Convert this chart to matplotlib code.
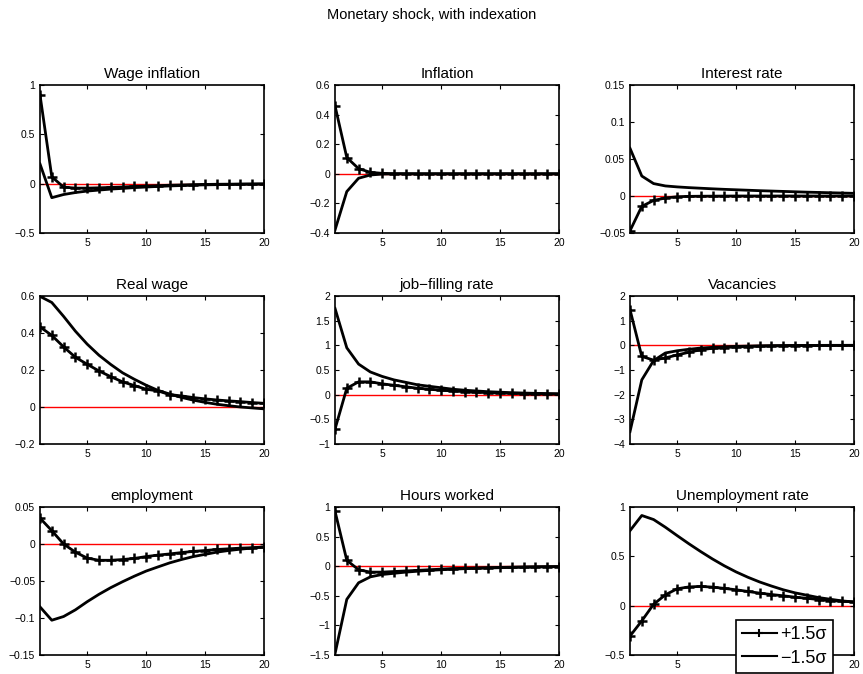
import matplotlib.pyplot as plt
from matplotlib.lines import Line2D
import numpy as np

plt.rcParams['font.family'] = ['Liberation Sans', 'DejaVu Sans']

periods = np.arange(1, 21)

titles = ['Wage inflation', 'Inflation', 'Interest rate',
          'Real wage', 'job\u2212filling rate', 'Vacancies',
          'employment', 'Hours worked', 'Unemployment rate']

# +1.5 sigma responses
wage_inf_pos = [0.9, 0.07, -0.035, -0.045, -0.045, -0.042, -0.038, -0.034, -0.028, -0.024,
                -0.02, -0.016, -0.013, -0.01, -0.008, -0.006, -0.005, -0.004, -0.003, -0.002]
infl_pos = [0.46, 0.11, 0.035, 0.01, 0.003, 0.001, 0.0005, 0, 0, 0,
            0, 0, 0, 0, 0, 0, 0, 0, 0, 0]
rate_pos = [-0.047, -0.014, -0.006, -0.0027, -0.001, -0.0005, -0.0003, -0.0002, -0.0001, 0,
            0, 0, 0, 0, 0, 0, 0, 0, 0, 0]
rwage_pos = [0.433, 0.387, 0.325, 0.269, 0.231, 0.195, 0.164, 0.136, 0.116, 0.096,
             0.087, 0.067, 0.06, 0.051, 0.044, 0.038, 0.033, 0.029, 0.024, 0.02]
jobfill_pos = [-0.7, 0.13, 0.26, 0.26, 0.22, 0.19, 0.16, 0.13, 0.11, 0.09,
               0.075, 0.06, 0.05, 0.04, 0.033, 0.027, 0.022, 0.018, 0.015, 0.012]
vac_pos = [1.45, -0.45, -0.6, -0.51, -0.39, -0.28, -0.18, -0.12, -0.09, -0.065,
           -0.048, -0.035, -0.025, -0.018, -0.012, -0.008, -0.005, -0.003, -0.002, 0.0]
emp_pos = [0.035, 0.018, 0.0, -0.011, -0.019, -0.022, -0.022, -0.021, -0.0195, -0.017,
           -0.015, -0.0134, -0.0116, -0.010, -0.0088, -0.0074, -0.0065, -0.0056, -0.005, -0.004]
hours_pos = [0.93, 0.1, -0.06, -0.1, -0.1, -0.09, -0.08, -0.07, -0.06, -0.05,
             -0.04, -0.035, -0.03, -0.025, -0.02, -0.016, -0.013, -0.01, -0.008, -0.006]
unemp_pos = [-0.308, -0.154, 0.014, 0.11, 0.171, 0.19, 0.195, 0.188, 0.175, 0.161,
             0.144, 0.127, 0.113, 0.1, 0.086, 0.075, 0.062, 0.051, 0.045, 0.038]

# -1.5 sigma responses
wage_inf_neg = [0.2, -0.142, -0.11, -0.09, -0.075, -0.065, -0.055, -0.048, -0.04, -0.034,
                -0.028, -0.023, -0.019, -0.015, -0.012, -0.01, -0.008, -0.006, -0.005, -0.004]
infl_neg = [-0.38, -0.12, -0.03, -0.008, -0.002, -0.0005, 0, 0, 0, 0,
            0, 0, 0, 0, 0, 0, 0, 0, 0, 0]
rate_neg = [0.0645, 0.027, 0.0168, 0.0136, 0.0123, 0.0113, 0.0105, 0.0097, 0.009, 0.0084,
            0.0078, 0.0072, 0.0067, 0.0062, 0.0057, 0.0052, 0.0048, 0.0044, 0.004, 0.0036]
rwage_neg = [0.598, 0.565, 0.49, 0.41, 0.34, 0.28, 0.23, 0.185, 0.15, 0.118,
             0.09, 0.07, 0.052, 0.037, 0.025, 0.015, 0.007, 0.0, -0.005, -0.01]
jobfill_neg = [1.75, 0.95, 0.62, 0.46, 0.37, 0.30, 0.25, 0.2, 0.17, 0.14,
               0.11, 0.09, 0.075, 0.06, 0.05, 0.04, 0.033, 0.027, 0.022, 0.018]
vac_neg = [-3.5, -1.4, -0.62, -0.31, -0.22, -0.16, -0.11, -0.08, -0.058, -0.042,
           -0.03, -0.02, -0.014, -0.01, -0.006, -0.004, -0.002, 0, 0, 0]
emp_neg = [-0.085, -0.103, -0.098, -0.089, -0.078, -0.068, -0.059, -0.051, -0.0435, -0.0366,
           -0.031, -0.0255, -0.021, -0.017, -0.014, -0.011, -0.0088, -0.007, -0.0055, -0.004]
hours_neg = [-1.48, -0.56, -0.28, -0.18, -0.14, -0.12, -0.1, -0.085, -0.07, -0.06,
             -0.05, -0.042, -0.035, -0.03, -0.025, -0.02, -0.016, -0.013, -0.01, -0.008]
unemp_neg = [0.76, 0.914, 0.873, 0.795, 0.71, 0.627, 0.548, 0.473, 0.404, 0.342,
             0.288, 0.24, 0.199, 0.161, 0.13, 0.106, 0.082, 0.065, 0.048, 0.038]

pos = [wage_inf_pos, infl_pos, rate_pos, rwage_pos, jobfill_pos, vac_pos,
       emp_pos, hours_pos, unemp_pos]
neg = [wage_inf_neg, infl_neg, rate_neg, rwage_neg, jobfill_neg, vac_neg,
       emp_neg, hours_neg, unemp_neg]

ylims = [(-0.5, 1), (-0.4, 0.6), (-0.05, 0.15),
         (-0.2, 0.6), (-1, 2), (-4, 2),
         (-0.15, 0.05), (-1.5, 1), (-0.5, 1)]
yticks = [[-0.5, 0, 0.5, 1], [-0.4, -0.2, 0, 0.2, 0.4, 0.6], [-0.05, 0, 0.05, 0.1, 0.15],
          [-0.2, 0, 0.2, 0.4, 0.6], [-1, -0.5, 0, 0.5, 1, 1.5, 2], [-4, -3, -2, -1, 0, 1, 2],
          [-0.15, -0.1, -0.05, 0, 0.05], [-1.5, -1, -0.5, 0, 0.5, 1], [-0.5, 0, 0.5, 1]]


def fmt(v):
    s = ('%g' % v)
    return s.replace('-', '\u2212')


W, H = 863, 674
fig = plt.figure(figsize=(W / 100, H / 100), dpi=100)
fig.text(0.5, 1 - 15 / H, 'Monetary shock, with indexation', ha='center', va='center', fontsize=10.5)

lefts = [40, 335, 630]
bottoms = [233, 444, 655]
aw, ah = 224, 148

for k in range(9):
    r, c = divmod(k, 3)
    ax = fig.add_axes([lefts[c] / W, 1 - bottoms[r] / H, aw / W, ah / H])
    ax.axhline(0, color='red', lw=1, zorder=1)
    ax.plot(periods, pos[k], color='black', lw=2, marker='+', ms=7, mew=1.8, zorder=3)
    ax.plot(periods, neg[k], color='black', lw=2, zorder=2)
    ax.set_xlim(1, 20)
    ax.set_ylim(*ylims[k])
    ax.set_xticks([5, 10, 15, 20])
    ax.set_yticks(yticks[k])
    ax.set_yticklabels([fmt(v) for v in yticks[k]])
    ax.tick_params(direction='in', top=True, right=True, labelsize=7.5, length=3, width=0.8)
    for sp in ax.spines.values():
        sp.set_linewidth(1.2)
    ax.set_title(titles[k], fontsize=11, pad=5)
    if k == 8:
        # the legend box hides these labels in the original
        for lab in ax.get_xticklabels()[1:3]:
            lab.set_visible(False)

# legend handles drawn thinner, as in the original
h_pos = Line2D([], [], color='black', lw=1.5, marker='+', ms=6, mew=1.5)
h_neg = Line2D([], [], color='black', lw=1.5)
leg = fig.legend([h_pos, h_neg], ['+1.5\u03c3', '\u22121.5\u03c3'], loc='upper left',
                 bbox_to_anchor=(736 / W, 1 - 620 / H), fontsize=13, frameon=True,
                 fancybox=False, handlelength=1.9, borderpad=0.35, labelspacing=0.35,
                 handletextpad=0.2, borderaxespad=0)
leg.get_frame().set_edgecolor('black')
leg.get_frame().set_linewidth(1.2)
leg.get_frame().set_alpha(1)

fig.savefig('out.png', dpi=100)
